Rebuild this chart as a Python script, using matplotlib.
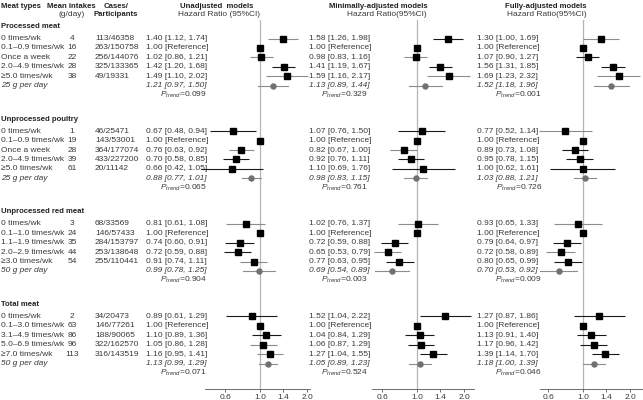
import numpy as np
import matplotlib
matplotlib.use("Agg")
import matplotlib.pyplot as plt
from matplotlib.ticker import NullLocator

plt.rcParams['font.family'] = ['Liberation Sans', 'DejaVu Sans']
plt.rcParams['mathtext.fontset'] = 'custom'
plt.rcParams['mathtext.it'] = 'Liberation Sans:italic'
plt.rcParams['mathtext.rm'] = 'Liberation Sans'

nan = np.nan

# ---------------- data ----------------
group_names = ["Processed meat", "Unprocessed poultry", "Unprocessed red meat", "Total meat"]
model_titles = ["Unadjusted  models", "Minimally-adjusted models", "Fully-adjusted models"]
model_subtitles = ["Hazard Ratio (95%CI)", "Hazard Ratio(95%CI)", "Hazard Ratio(95%CI)"]

processed_cats = ["0 times/wk", "0.1\u20130.9 times/wk", "Once a week", "2.0\u20134.9 times/wk", "\u22655.0 times/wk"]
processed_intake = [4, 16, 22, 28, 38]
processed_cases = ["113/46358", "263/150758", "256/144076", "325/133365", "49/19331"]
processed_unit = "25 g per day"
processed_hr = [[1.40, 1.00, 1.02, 1.42, 1.49], [1.58, 1.00, 0.98, 1.41, 1.59], [1.30, 1.00, 1.07, 1.56, 1.69]]
processed_lo = [[1.12, nan, 0.86, 1.20, 1.10], [1.26, nan, 0.83, 1.19, 1.16], [1.00, nan, 0.90, 1.31, 1.23]]
processed_hi = [[1.74, nan, 1.21, 1.68, 2.02], [1.98, nan, 1.16, 1.67, 2.17], [1.69, nan, 1.27, 1.85, 2.32]]
processed_pooled = [[1.21, 0.97, 1.50], [1.13, 0.89, 1.44], [1.52, 1.18, 1.96]]
processed_ptrend = ["0.099", "0.329", "0.001"]

poultry_cats = ["0 times/wk", "0.1\u20130.9 times/wk", "Once a week", "2.0\u20134.9 times/wk", "\u22655.0 times/wk"]
poultry_intake = [1, 19, 28, 39, 61]
poultry_cases = ["46/25471", "143/53001", "364/177074", "433/227200", "20/11142"]
poultry_unit = "25 g per day"
poultry_hr = [[0.67, 1.00, 0.76, 0.70, 0.66], [1.07, 1.00, 0.82, 0.92, 1.10], [0.77, 1.00, 0.89, 0.95, 1.00]]
poultry_lo = [[0.48, nan, 0.63, 0.58, 0.42], [0.76, nan, 0.67, 0.76, 0.69], [0.52, nan, 0.73, 0.78, 0.62]]
poultry_hi = [[0.94, nan, 0.92, 0.85, 1.05], [1.50, nan, 1.00, 1.11, 1.76], [1.14, nan, 1.08, 1.15, 1.61]]
poultry_pooled = [[0.88, 0.77, 1.01], [0.98, 0.83, 1.15], [1.03, 0.88, 1.21]]
poultry_ptrend = ["0.065", "0.761", "0.726"]

red_cats = ["0 times/wk", "0.1\u20131.0 times/wk", "1.1\u20131.9 times/wk", "2.0\u20132.9 times/wk", "\u22653.0 times/wk"]
red_intake = [3, 24, 35, 44, 54]
red_cases = ["68/33569", "146/57433", "284/153797", "253/138648", "255/110441"]
red_unit = "50 g per day"
red_hr = [[0.81, 1.00, 0.74, 0.72, 0.91], [1.02, 1.00, 0.72, 0.65, 0.77], [0.93, 1.00, 0.79, 0.72, 0.80]]
red_lo = [[0.61, nan, 0.60, 0.59, 0.74], [0.76, nan, 0.59, 0.53, 0.63], [0.65, nan, 0.64, 0.58, 0.65]]
red_hi = [[1.08, nan, 0.91, 0.88, 1.11], [1.37, nan, 0.88, 0.79, 0.95], [1.33, nan, 0.97, 0.89, 0.99]]
red_pooled = [[0.99, 0.78, 1.25], [0.69, 0.54, 0.89], [0.70, 0.53, 0.92]]
red_ptrend = ["0.904", "0.003", "0.009"]

total_cats = ["0 times/wk", "0.1\u20133.0 times/wk", "3.1\u20134.9 times/wk", "5.0\u20136.9 times/wk", "\u22657.0 times/wk"]
total_intake = [2, 63, 86, 96, 113]
total_cases = ["34/20473", "146/77261", "188/90065", "322/162570", "316/143519"]
total_unit = "50 g per day"
total_hr = [[0.89, 1.00, 1.10, 1.05, 1.16], [1.52, 1.00, 1.04, 1.06, 1.27], [1.27, 1.00, 1.13, 1.17, 1.39]]
total_lo = [[0.61, nan, 0.89, 0.86, 0.95], [1.04, nan, 0.84, 0.87, 1.04], [0.87, nan, 0.91, 0.96, 1.14]]
total_hi = [[1.29, nan, 1.36, 1.28, 1.41], [2.22, nan, 1.29, 1.29, 1.55], [1.86, nan, 1.40, 1.42, 1.70]]
total_pooled = [[1.13, 0.99, 1.29], [1.05, 0.89, 1.23], [1.18, 1.00, 1.39]]
total_ptrend = ["0.071", "0.524", "0.046"]

tick_vals = [0.6, 1.0, 1.4, 2.0]
tick_labels = ["0.6", "1.0", "1.4", "2.0"]

groups = [
    (processed_cats, processed_intake, processed_cases, processed_unit, processed_hr, processed_lo, processed_hi, processed_pooled, processed_ptrend),
    (poultry_cats, poultry_intake, poultry_cases, poultry_unit, poultry_hr, poultry_lo, poultry_hi, poultry_pooled, poultry_ptrend),
    (red_cats, red_intake, red_cases, red_unit, red_hr, red_lo, red_hi, red_pooled, red_ptrend),
    (total_cats, total_intake, total_cases, total_unit, total_hr, total_lo, total_hi, total_pooled, total_ptrend),
]

# ---------------- style / layout ----------------
# CI line shades per model, per group (k=black, g=grey, -=reference)
line_shades = [
    ["g-gkg", "k-gkk", "g-kkg", "k-kgg"],
    ["k-gkg", "k-gkk", "g-kgk", "k-kkk"],
    ["g-kkg", "g-kkk", "g-kgk", "k-kkk"],
]
shade_col = {"k": "#1a1a1a", "g": "#8c8c8c"}
txt_col = "#3a3a3a"
FS = 6.0
FSB = 5.6

W, H = 643, 400
fig = plt.figure(figsize=(W / 100, H / 100), dpi=100)
bg = fig.add_axes([0, 0, 1, 1])
bg.set_xlim(0, W)
bg.set_ylim(H, 0)
bg.axis('off')

def row_y(g, i):
    return 38.5 + 92.6 * g + 9.45 * i

def T(x, y, s, ha='left', bold=False, italic=False, color=txt_col, size=None):
    if size is None:
        size = FSB if bold else FS
    bg.text(x, y, s, ha=ha, va='center', fontsize=size,
            fontweight='bold' if bold else 'normal',
            fontstyle='italic' if italic else 'normal', color=color)

# column headers
hy1, hy2 = 6, 14.5
T(1, hy1, "Meat types", bold=True, color='#222')
T(71, hy1, "Mean intakes", ha='center', bold=True, color='#222')
T(72, hy2, "(g/day)", ha='center')
T(116, hy1, "Cases/", ha='center', bold=True, color='#222')
T(116, hy2, "Participants", ha='center', bold=True, color='#222')

text_left = [146, 309, 477]
ptrend_right = [207, 368, 542]
title_cx = [217, 378, 546]
sub_cx = [219, 387, 547]
for m in range(3):
    T(title_cx[m], hy1, model_titles[m], ha='center', bold=True, color='#222')
    T(sub_cx[m], hy2, model_subtitles[m], ha='center')

intake_cx = 72
cases_x = 95

for g, (cats, intake, cases, unit, hr, lo, hi, pooled, ptr) in enumerate(groups):
    T(1, row_y(g, 0) - 12, group_names[g], bold=True, color='#222')
    for i in range(5):
        y = row_y(g, i)
        T(1, y, cats[i])
        T(intake_cx, y, str(intake[i]), ha='center')
        T(cases_x, y, cases[i])
        for m in range(3):
            if np.isnan(lo[m][i]):
                s = f"{hr[m][i]:.2f} [Reference]"
            else:
                s = f"{hr[m][i]:.2f} [{lo[m][i]:.2f}, {hi[m][i]:.2f}]"
            T(text_left[m], y, s)
    y5 = row_y(g, 5)
    T(1, y5, unit, italic=True)
    for m in range(3):
        p = pooled[m]
        T(text_left[m], y5, f"{p[0]:.2f} [{p[1]:.2f}, {p[2]:.2f}]", italic=True)
        T(ptrend_right[m], row_y(g, 6), r"$P_{trend}$=" + ptr[m], ha='right')

# forest panels
ax_top, ax_bot = 20, 389
panel_px = [(205, 310, 260), (372, 474, 417), (540, 643, 583)]
scale = 68.0
for m, (x0, x1, xc) in enumerate(panel_px):
    ax = fig.add_axes([x0 / W, (H - ax_bot) / H, (x1 - x0) / W, (ax_bot - ax_top) / H])
    ax.set_xscale('log')
    ax.set_xlim(np.exp((x0 - xc) / scale), np.exp((x1 - xc) / scale))
    ax.set_ylim(ax_bot, ax_top)
    ax.patch.set_alpha(0)
    for s in ['top', 'right', 'left']:
        ax.spines[s].set_visible(False)
    ax.spines['bottom'].set_color('#555')
    ax.spines['bottom'].set_linewidth(0.6)
    ax.set_xticks(tick_vals)
    ax.set_xticklabels(tick_labels)
    ax.xaxis.set_minor_locator(NullLocator())
    ax.set_yticks([])
    ax.tick_params(axis='x', length=2, width=0.6, labelsize=FS, pad=1.5, colors='#555', labelcolor=txt_col)
    ax.axvline(1.0, color='#b5b5b5', lw=0.9, zorder=1)
    for g, (cats, intake, cases, unit, hr, lo, hi, pooled, ptr) in enumerate(groups):
        for i in range(5):
            y = row_y(g, i)
            if not np.isnan(lo[m][i]):
                ax.plot([lo[m][i], hi[m][i]], [y, y], color=shade_col[line_shades[m][g][i]],
                        lw=0.8, zorder=2, clip_on=False, solid_capstyle='butt')
            ax.plot([hr[m][i]], [y], marker='s', ms=3.8, color='black', zorder=3, clip_on=False)
        y5 = row_y(g, 5)
        p = pooled[m]
        ax.plot([p[1], p[2]], [y5, y5], color='#8c8c8c', lw=0.8, zorder=2, clip_on=False)
        ax.plot([p[0]], [y5], marker='o', ms=3.6, color='#707070', zorder=3, clip_on=False)

fig.savefig("out.png", dpi=100)
